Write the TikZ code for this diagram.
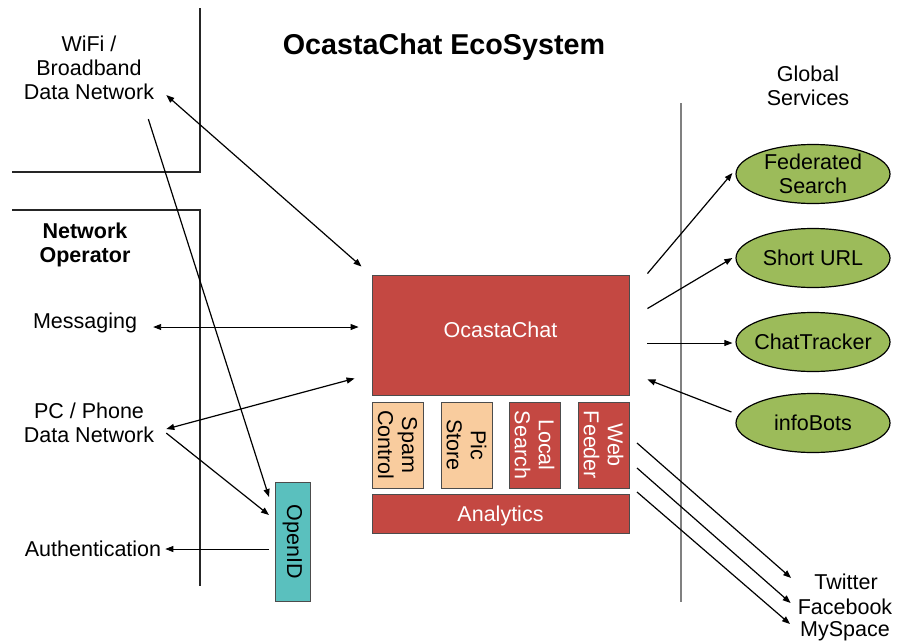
\documentclass[tikz,border=0pt]{standalone}
\usepackage{fontspec}
\setmainfont{Liberation Sans}
\usetikzlibrary{
  calc,
  shapes.geometric,
  arrows.meta,
}
\definecolor{chatred}{RGB}{196,72,66}
\definecolor{chatpeach}{RGB}{249,204,158}
\definecolor{chatteal}{RGB}{90,192,190}
\definecolor{chatgreen}{RGB}{156,187,90}

\begin{document}
\begin{tikzpicture}[x=1pt, y=-1pt,
  >={Triangle[length=8pt,width=6pt]},
  lbl/.style={inner sep=0pt, align=center, font=\fontsize{21.5}{24}\selectfont},
  block/.style={lbl, draw=black!70, line width=0.9pt, fill=chatred, text=white},
  side/.style={block, rotate=-90, minimum width=86pt, minimum height=51pt},
  svc/.style={lbl, ellipse, draw, line width=1.2pt, fill=chatgreen, inner xsep=-8pt, inner ysep=-6pt,
    minimum width=154pt, minimum height=59pt},
  arr/.style={->, line width=1.2pt},
  dbl/.style={<->, line width=1.2pt},
]
\useasboundingbox (0,0) rectangle (909,643);

% borders
\draw[black!85, line width=1.2pt] (200,8) -- (200,172) -- (12,172);
\draw[black!85, line width=1.2pt] (12,210) -- (200,210) -- (200,586);
\draw[gray, line width=1.2pt] (681,103) -- (681,602);

\node[lbl, font=\bfseries\fontsize{28.7}{34}\selectfont] (title) at (444,47) {OcastaChat EcoSystem};

% left side
\node[lbl] (wifi) at (89,68) {WiFi /\\Broadband\\Data Network};
\node[lbl, font=\bfseries\fontsize{21.5}{24}\selectfont] (netop) at (85,245) {Network\\Operator};
\node[lbl] (msg) at (85,323) {Messaging};
\node[lbl] (pc) at (89,423) {PC / Phone\\Data Network};
\node[lbl] (auth) at (93,549) {Authentication};

% core
\node[block, minimum width=257pt, minimum height=120pt, text depth=10pt] (ocasta) at (500.5,335) {OcastaChat};
\node[side, fill=chatpeach, text=black] (spam) at (397.5,445) {Spam\\Control};
\node[side, fill=chatpeach, text=black] (pic) at (466.5,445) {Pic\\Store};
\node[side] (local) at (534.5,445) {Local\\Search};
\node[side] (web) at (603.5,445) {Web\\Feeder};
\node[block, minimum width=257pt, minimum height=39pt, text depth=0pt] (analytics) at (500.5,513.5) {Analytics};
\node[block, fill=chatteal, text=black, rotate=-90, minimum width=119pt, minimum height=35pt] (openid) at (292.5,541.5) {OpenID};

% global services
\node[lbl] (glob) at (808,86) {Global\\Services};
\node[svc] (fed) at (813,174) {Federated\\Search};
\node[svc] (short) at (813,258) {Short URL};
\node[svc] (chat) at (813,342) {ChatTracker};
\node[svc] (info) at (813,423) {infoBots};

\node[lbl] (tw) at (846,582) {Twitter};
\node[lbl] (fb) at (845,607) {Facebook};
\node[lbl] (ms) at (845,631) {MySpace};

% connectors
\draw[dbl] ($(wifi.south east)+(12,-5)$) -- ($(ocasta.north west)+(-10,-8)$);
\draw[arr] ($(wifi.south east)+(-6,19)$) -- ($(openid.center)+(-23.5,-44.5)$);
\draw[dbl, line width=0.9pt] ($(msg.east)+(16,4)$) -- ($(ocasta.west)+(-13,-8)$);
\draw[dbl] ($(pc.east)+(12,6)$) -- ($(ocasta.south west)+(-17,-17)$);
\draw[arr] ($(pc.south east)+(12,-10)$) -- ($(openid.center)+(-23.5,-26.5)$);
\draw[arr, line width=0.8pt] ($(openid.center)+(-23.5,7.5)$) -- ($(auth.east)+(4,0)$);

\draw[arr] ($(ocasta.north east)+(18,-1)$) -- ($(fed.west)+(-3,-1)$);
\draw[arr] ($(ocasta.north east)+(18,34)$) -- ($(short.west)+(-3,0)$);
\draw[arr, line width=0.8pt] ($(ocasta.east)+(18,8)$) -- ($(chat.west)+(-3,1)$);
\draw[arr] ($(info.west)+(-4,-11)$) -- ($(ocasta.south east)+(18,-16)$);

\draw[arr] ($(web.center)+(33.5,-2)$) -- ($(tw.west)+(-23,-4)$);
\draw[arr] ($(web.center)+(33.5,23)$) -- ($(fb.west)+(-7,-4)$);
\draw[arr] ($(web.center)+(33.5,47)$) -- ($(ms.west)+(-10,-7)$);
\end{tikzpicture}
\end{document}
